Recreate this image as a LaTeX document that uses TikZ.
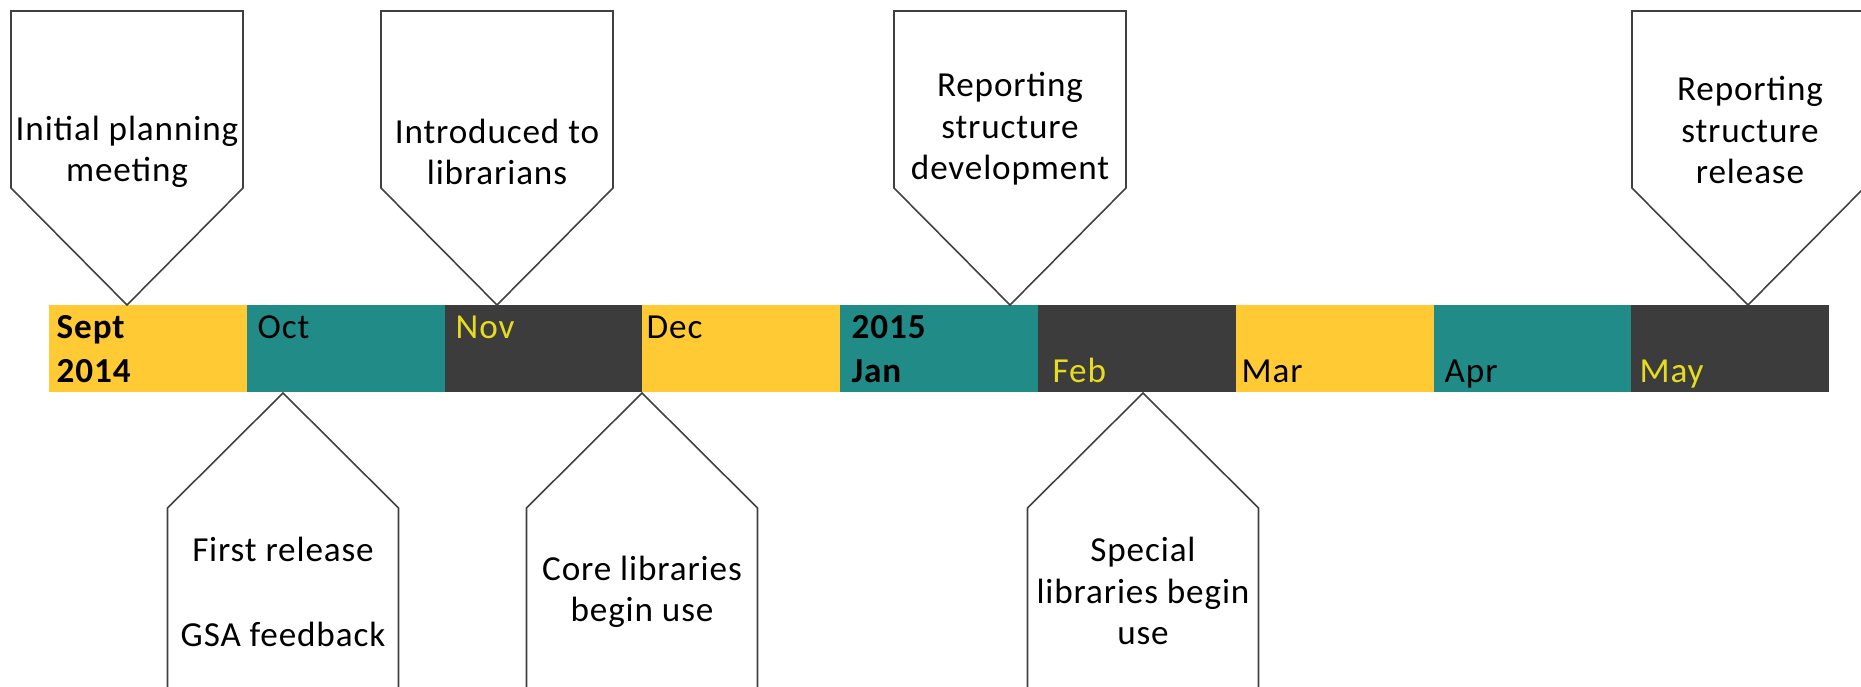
\documentclass[tikz,border=0pt]{standalone}
\usepackage{fontspec}
\setmainfont{Carlito}[LetterSpace=2.5]
\usepackage{tikz}
\usepackage{xcolor}
\usetikzlibrary{positioning, calc}

\definecolor{tlyellow}{RGB}{255,202,51}
\definecolor{tlteal}{RGB}{33,139,136}
\definecolor{tldark}{RGB}{60,60,60}
\definecolor{tlmonth}{RGB}{230,220,30}

\begin{document}
\begin{tikzpicture}[
    callout/.style={draw=black!75, line width=0.45pt, fill=white},
    calltext/.style={align=center, inner sep=0pt, font=\fontsize{10}{11.8}\selectfont},
    monthtext/.style={anchor=base west, inner sep=0pt, font=\fontsize{10}{12}\selectfont}
]
\useasboundingbox (0,0) rectangle (18.61,6.87);

% Month bar
\foreach \i/\col in {0/tlyellow,1/tlteal,2/tldark,3/tlyellow,4/tlteal,5/tldark,6/tlyellow,7/tlteal,8/tldark} {
    \fill[\col] ({0.49+\i*1.978},2.95) rectangle ++(1.978,0.87);
}

% Month labels (upper line)
\node[monthtext, font=\fontsize{10}{12}\selectfont\bfseries] (sept) at (0.56,3.48) {Sept};
\node[monthtext] (oct) at (2.57,3.48) {Oct};
\node[monthtext, text=tlmonth] (nov) at (4.55,3.48) {Nov};
\node[monthtext] (dec) at (6.46,3.48) {Dec};
\node[monthtext, font=\fontsize{10}{12}\selectfont\bfseries] (yr2015) at (8.51,3.48) {2015};

% Month labels (lower line)
\node[monthtext, font=\fontsize{10}{12}\selectfont\bfseries] (yr2014) at (0.56,3.04) {2014};
\node[monthtext, font=\fontsize{10}{12}\selectfont\bfseries] (jan) at (8.51,3.04) {Jan};
\node[monthtext, text=tlmonth] (feb) at (10.52,3.04) {Feb};
\node[monthtext] (mar) at (12.41,3.04) {Mar};
\node[monthtext] (apr) at (14.44,3.04) {Apr};
\node[monthtext, text=tlmonth] (may) at (16.39,3.04) {May};

% Callouts above the bar
\foreach \p in {1.27,4.97,10.10,17.48} {
    \draw[callout] ({\p-1.16},6.76) -- ({\p+1.16},6.76) -- ({\p+1.16},4.99)
        -- (\p,3.82) -- ({\p-1.16},4.99) -- cycle;
}
\node[calltext] (planning) at (1.27,5.35) {Initial planning\\meeting};
\node[calltext] (librarians) at (4.97,5.35) {Introduced to\\librarians};
\node[calltext] (repdev) at (10.10,5.58) {Reporting\\structure\\development};
\node[calltext] (reprel) at (17.50,5.57) {Reporting\\structure\\release};

% Callouts below the bar
\foreach \p in {2.83,6.42,11.43} {
    \draw[callout] (\p,2.94) -- ({\p+1.155},1.79) -- ({\p+1.155},-0.2)
        -- ({\p-1.155},-0.2) -- ({\p-1.155},1.79) -- cycle;
}
\node[calltext] (release) at (2.83,0.95) {First release\\[12.5pt]GSA feedback};
\node[calltext] (core) at (6.42,0.95) {Core libraries\\begin use};
\node[calltext] (special) at (11.43,0.96) {Special\\libraries begin\\use};
\end{tikzpicture}
\end{document}
